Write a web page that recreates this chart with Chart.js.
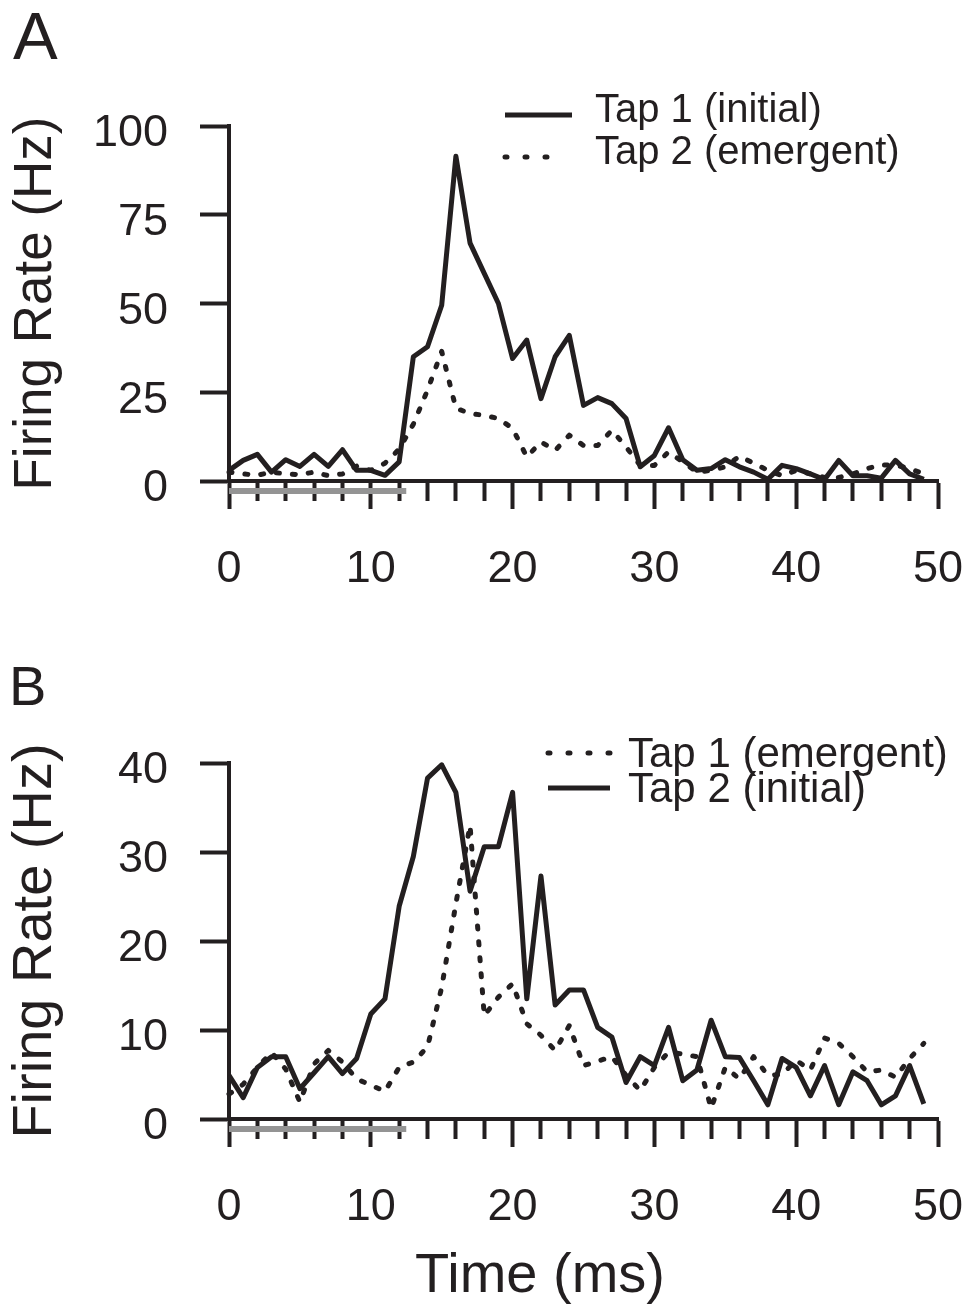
<!DOCTYPE html>
<html>
<head>
<meta charset="utf-8">
<title>Firing rate after tap</title>
<script src="https://cdn.jsdelivr.net/npm/chart.js@4.4.1/dist/chart.umd.min.js"></script>
<style>
  html, body { margin: 0; padding: 0; background: #fff; }
  #wrap { position: relative; width: 969px; height: 1304px; }
  canvas { position: absolute; left: 0; }
  #panelA { top: 0; }
  #panelB { top: 640px; }
</style>
</head>
<body>
<div id="wrap">
  <canvas id="panelA" width="969" height="640"></canvas>
  <canvas id="panelB" width="969" height="664"></canvas>
</div>
<script>
// data (ms bins, Hz)
const times = [0, 1, 2, 3, 4, 5, 6, 7, 8, 9, 10, 11, 12, 13, 14, 15, 16, 17, 18, 19,
  20, 21, 22, 23, 24, 25, 26, 27, 28, 29, 30, 31, 32, 33, 34, 35, 36, 37, 38, 39,
  40, 41, 42, 43, 44, 45, 46, 47, 48, 49];
const xTickMarks = [0, 2, 4, 6, 8, 10, 12, 14, 16, 18, 20, 22, 24, 26, 28, 30, 32, 34, 36, 38, 40, 42, 44, 46, 48, 50];
const xTickLabels = [0, 10, 20, 30, 40, 50];
const stimulusWindow = [0, 12.5];

// panel A
const yTicksA = [0, 25, 50, 75, 100];
const tap1InitialA = [3, 5.8, 7.5, 2.5, 6, 4.1, 7.5, 4.1, 8.8, 3,
  3, 1.6, 5.4, 35, 37.8, 49.5, 91.5, 67, 58.5, 50,
  34.5, 39.7, 23.2, 35, 41, 21.3, 23.5, 21.8, 17.6, 4,
  7.2, 15, 6, 3, 3.5, 6, 4, 2.5, 0.5, 4.4,
  3.5, 2, 0.4, 5.8, 1.5, 1.5, 0.8, 5.8, 2, 0.5];
const tap2EmergentA = [2.5, 2, 1.6, 2.5, 2, 1.8, 2.5, 1.5, 2, 4.2,
  3, 5, 9, 16, 25.6, 36.5, 20.5, 19, 18.5, 17.6,
  14.8, 6.8, 11, 8.6, 12.9, 10, 10, 14.3, 9.6, 4.4,
  4.4, 8.2, 5.4, 2.5, 3, 4, 7, 5, 3, 1.5,
  3, 2, 1, 1, 2, 3.5, 4.5, 4.5, 3.5, 2];

// panel B
const yTicksB = [0, 10, 20, 30, 40];
const tap1EmergentB = [2.8, 3.9, 5.8, 7.5, 5.6, 1.9, 6.2, 7.7, 6.4, 4.5,
  3.8, 3.1, 5.8, 6.4, 8.1, 14.8, 24.2, 33, 11.6, 13.7,
  15.2, 10.7, 9.4, 7.7, 10.5, 6, 6.5, 7, 4.9, 3.2,
  5.8, 7.5, 7.3, 7, 1.2, 5.8, 4.5, 7, 4.9, 5,
  6.6, 5.5, 9.1, 8.5, 7, 5.3, 5.5, 4.7, 6.8, 8.5];
const tap2InitialB = [4.9, 2.4, 5.8, 7, 7, 3.4, 5.2, 7, 5.1, 6.8,
  11.8, 13.5, 23.9, 29.5, 38.3, 39.8, 36.7, 25.6, 30.6, 30.6,
  36.7, 13.5, 27.3, 12.8, 14.5, 14.5, 10.3, 9.2, 4.1, 7,
  6, 10.3, 4.3, 5.5, 11.1, 7, 6.9, 4.3, 1.6, 6.8,
  5.8, 2.6, 6, 1.6, 5.3, 4.3, 1.6, 2.6, 6, 1.7];

const ink = '#231f20';
const family = "'Liberation Sans', Arial, Helvetica, sans-serif";
Chart.defaults.font.family = family;
Chart.defaults.color = ink;

function toPoints(values) {
    return values.map((v, i) => ({ x: times[i], y: v }));
}

function solidLine(label, values) {
    return {
        label: label,
        data: toPoints(values),
        borderColor: ink,
        borderWidth: 5,
        borderJoinStyle: 'round',
        pointRadius: 0,
        tension: 0,
        clip: false
    };
}

function dottedLine(label, values) {
    const ds = solidLine(label, values);
    ds.borderDash = [3, 13];
    ds.borderCapStyle = 'round';
    return ds;
}

// grey bar under the axis for the tap window
const stimulusBar = {
    id: 'stimulusBar',
    afterDraw(chart, args, opts) {
        const { ctx, chartArea } = chart;
        const x = chart.scales.x;
        ctx.save();
        ctx.strokeStyle = opts.color;
        ctx.lineWidth = 6;
        ctx.lineCap = 'butt';
        ctx.beginPath();
        ctx.moveTo(x.getPixelForValue(stimulusWindow[0]), chartArea.bottom + opts.offset);
        ctx.lineTo(x.getPixelForValue(stimulusWindow[1]), chartArea.bottom + opts.offset);
        ctx.stroke();
        ctx.restore();
    }
};

// legend in the upper right corner, one row per dataset
const cornerLegend = {
    id: 'cornerLegend',
    afterDraw(chart, args, opts) {
        const ctx = chart.ctx;
        ctx.save();
        chart.data.datasets.forEach((ds, i) => {
            const y = opts.y + i * opts.rowGap;
            const dotted = ds.borderDash && ds.borderDash.length > 0;
            ctx.beginPath();
            ctx.strokeStyle = ds.borderColor;
            ctx.lineWidth = 5;
            ctx.lineCap = dotted ? 'round' : 'butt';
            ctx.setLineDash(dotted ? [2, 18] : []);
            ctx.moveTo(opts.x, y + opts.lineDy);
            ctx.lineTo(opts.x + (dotted ? opts.dotLen : opts.lineLen), y + opts.lineDy);
            ctx.stroke();
            ctx.setLineDash([]);
            ctx.fillStyle = ink;
            ctx.font = opts.size + 'px ' + family;
            ctx.textAlign = 'left';
            ctx.textBaseline = 'middle';
            ctx.fillText(ds.label, opts.textX, y);
        });
        ctx.restore();
    }
};

// panel letters and the shared time title
const panelText = {
    id: 'panelText',
    afterDraw(chart, args, opts) {
        const ctx = chart.ctx;
        ctx.save();
        ctx.fillStyle = ink;
        ctx.textBaseline = 'alphabetic';
        opts.items.forEach(t => {
            ctx.font = t.size + 'px ' + family;
            ctx.textAlign = t.align || 'left';
            ctx.fillText(t.text, t.x, t.y);
        });
        ctx.restore();
    }
};

function makePanel(canvasId, cfg) {
    const canvas = document.getElementById(canvasId);
    return new Chart(canvas.getContext('2d'), {
        type: 'line',
        data: { datasets: cfg.datasets },
        options: {
            responsive: false,
            animation: false,
            devicePixelRatio: 1,
            layout: { padding: { left: 0, right: 31, top: cfg.top, bottom: 0 } },
            scales: {
                x: {
                    type: 'linear',
                    min: 0,
                    max: 50,
                    afterBuildTicks: s => { s.ticks = xTickMarks.map(v => ({ value: v })); },
                    afterFit: s => { s.height = canvas.height - cfg.bottom; },
                    border: { display: true, color: ink, width: 4 },
                    grid: {
                        drawOnChartArea: false,
                        // long tick slot, cut by dash: major 26 px, minor 18 px
                        tickLength: 62,
                        tickWidth: 4,
                        tickColor: ink,
                        tickBorderDash: c => xTickLabels.includes(c.tick.value) ? [26, 100] : [18, 100]
                    },
                    ticks: {
                        autoSkip: false,
                        maxRotation: 0,
                        padding: 0,
                        font: { size: 45 },
                        callback: v => xTickLabels.includes(v) ? String(v) : ''
                    }
                },
                y: {
                    min: 0,
                    max: cfg.yTicks[cfg.yTicks.length - 1],
                    afterBuildTicks: s => { s.ticks = cfg.yTicks.map(v => ({ value: v })); },
                    afterFit: s => { s.width = 229; },
                    border: { display: true, color: ink, width: 4 },
                    grid: { drawOnChartArea: false, tickLength: 29, tickWidth: 4, tickColor: ink },
                    ticks: { padding: 32, labelOffset: 8, font: { size: 45 } },
                    title: {
                        display: true,
                        text: 'Firing Rate (Hz)',
                        font: { size: cfg.titleSize },
                        padding: { top: cfg.titlePad, bottom: 0 }
                    }
                }
            },
            plugins: {
                legend: { display: false },
                tooltip: { enabled: false },
                stimulusBar: { color: '#949494', offset: 10 },
                cornerLegend: cfg.legend,
                panelText: { items: cfg.texts }
            }
        },
        plugins: [stimulusBar, cornerLegend, panelText]
    });
}

makePanel('panelA', {
    datasets: [solidLine('Tap 1 (initial)', tap1InitialA), dottedLine('Tap 2 (emergent)', tap2EmergentA)],
    yTicks: yTicksA,
    top: 126,
    bottom: 481,
    titleSize: 53,
    titlePad: 5,
    legend: { x: 505, y: 111, rowGap: 42, lineDy: 4, lineLen: 67, dotLen: 44, textX: 595, size: 40 },
    texts: [{ text: 'A', x: 13, y: 59, size: 67 }]
});

makePanel('panelB', {
    datasets: [dottedLine('Tap 1 (emergent)', tap1EmergentB), solidLine('Tap 2 (initial)', tap2InitialB)],
    yTicks: yTicksB,
    top: 123,
    bottom: 479,
    titleSize: 56,
    titlePad: 2,
    legend: { x: 548, y: 115, rowGap: 35, lineDy: -2, lineLen: 62, dotLen: 62, textX: 628, size: 42 },
    texts: [
        { text: 'B', x: 9, y: 65, size: 56 },
        { text: 'Time (ms)', x: 540, y: 652, size: 56, align: 'center' }
    ]
});
</script>
</body>
</html>
